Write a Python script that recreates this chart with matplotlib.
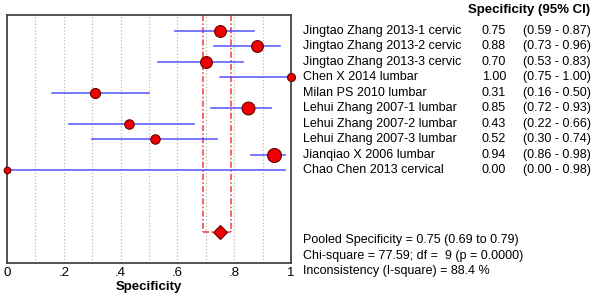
import matplotlib
matplotlib.use('Agg')
import matplotlib.pyplot as plt

# ── Datos del forest plot ─────────────────────────────────────────────
studies = ['Jingtao Zhang 2013-1 cervic', 'Jingtao Zhang 2013-2 cervic',
           'Jingtao Zhang 2013-3 cervic', 'Chen X 2014 lumbar',
           'Milan PS 2010 lumbar', 'Lehui Zhang 2007-1 lumbar',
           'Lehui Zhang 2007-2 lumbar', 'Lehui Zhang 2007-3 lumbar',
           'Jianqiao X 2006 lumbar', 'Chao Chen 2013 cervical']
spec = [0.75, 0.88, 0.70, 1.00, 0.31, 0.85, 0.43, 0.52, 0.94, 0.00]
ci_lo = [0.59, 0.73, 0.53, 0.75, 0.16, 0.72, 0.22, 0.30, 0.86, 0.00]
ci_hi = [0.87, 0.96, 0.83, 1.00, 0.50, 0.93, 0.66, 0.74, 0.98, 0.98]
# peso relativo de cada estudio (tamaño del punto)
weights = [1.0, 1.0, 1.0, 0.45, 0.75, 1.15, 0.65, 0.65, 1.3, 0.25]

pooled = 0.75
pooled_lo = 0.69
pooled_hi = 0.79
stats_lines = ['Pooled Specificity = 0.75 (0.69 to 0.79)',
               'Chi-square = 77.59; df =  9 (p = 0.0000)',
               'Inconsistency (I-square) = 88.4 %']

plt.rcParams['font.family'] = ['Liberation Sans', 'DejaVu Sans']

fig = plt.figure(figsize=(6.0, 2.99), dpi=100)
ax = fig.add_axes([0.0117, 0.1204, 0.4733, 0.8294])

rows = list(range(1, len(studies) + 1))
pooled_row = 14

# rejilla vertical punteada
for gx in [0.1, 0.2, 0.3, 0.4, 0.5, 0.6, 0.7, 0.8, 0.9]:
    ax.axvline(gx, color='#bbbbbb', ls=':', lw=0.9, zorder=0)

# líneas del IC combinado
for px in (pooled_lo, pooled_hi):
    ax.plot([px, px], [0, pooled_row], color='#f03a3a', ls=(0, (4, 1.5, 1, 1.5)),
            lw=1.1, zorder=1)
ax.plot([pooled_lo, pooled_hi], [pooled_row, pooled_row], color='#f03a3a',
        ls=(0, (4, 1.5, 1, 1.5)), lw=1.1, zorder=1)

# intervalos y puntos
for r, s, lo, hi, w in zip(rows, spec, ci_lo, ci_hi, weights):
    ax.plot([lo, hi], [r, r], color='#4444ff', lw=1.2, alpha=0.85, zorder=2)
    ax.plot(s, r, 'o', ms=3.5 + 5 * w, mfc='#ee0000', mec='#660000',
            mew=0.8, zorder=3, clip_on=False)

ax.plot(pooled, pooled_row, 'D', ms=7, mfc='#ee0000', mec='#660000',
        mew=0.8, zorder=3)

ax.set_xlim(0, 1)
ax.set_ylim(16, 0)
ax.set_yticks([])
ax.set_xticks([0, 0.2, 0.4, 0.6, 0.8, 1.0])
ax.set_xticklabels(['0', '.2', '.4', '.6', '.8', '1'], fontsize=9.5)
ax.tick_params(axis='x', length=0, pad=3)
ax.set_xlabel('Specificity', fontsize=9.5, fontweight='bold', labelpad=1)
for sp in ax.spines.values():
    sp.set_color('#444444')
    sp.set_linewidth(1.3)

# ── Texto a la derecha ───────────────────────────────────────────────
def fy(row):
    # posición vertical en coordenadas de figura para una fila
    return ax.transData.transform((0, row))[1] / fig.bbox.height

fig.text(590 / 600, 1 - 10 / 299, 'Specificity (95% CI)', fontsize=9.5,
         fontweight='bold', ha='right', va='center')
for r, name, s, lo, hi in zip(rows, studies, spec, ci_lo, ci_hi):
    y = fy(r)
    fig.text(303 / 600, y, name, fontsize=9, va='center')
    fig.text(482 / 600, y, f'{s:.2f}', fontsize=9, va='center')
    fig.text(523 / 600, y, f'({lo:.2f} - {hi:.2f})', fontsize=9, va='center')

for i, line in enumerate(stats_lines):
    fig.text(303 / 600, 1 - (240 + 15.5 * i) / 299, line, fontsize=9,
             va='center')

fig.savefig('out.png', dpi=100)
